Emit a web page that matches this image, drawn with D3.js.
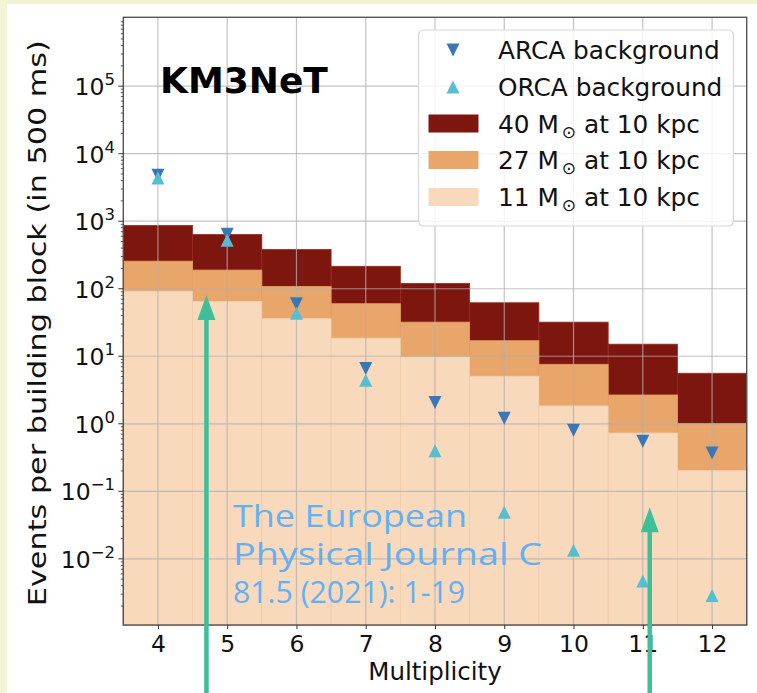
<!DOCTYPE html>
<html>
<head>
<meta charset="utf-8">
<script src="https://cdn.jsdelivr.net/npm/d3@7"></script>
<style>
body{margin:0;background:#f3f3d5;}
svg{display:block;font-family:"DejaVu Sans",sans-serif;}
</style>
</head>
<body>
<svg id="chart" width="757" height="693"></svg>
<script>
// multiplicity bins and values
var multiplicity=[4,5,6,7,8,9,10,11,12];
var m40=[864,636,381,215,120,62,32,15.1,5.6];
var m27=[256,189,108,60,32,17,7.6,2.67,1.0];
var m11=[92,65,36,18.5,9.8,5.06,1.84,0.73,0.203];
var arca=[4800,641,60,6.6,2.06,1.21,0.80,0.55,0.37];
var orca=[4380,523,43.5,4.4,0.40,0.049,0.0134,0.0047,0.00287];
var yExp=[-2,-1,0,1,2,3,4,5];
var supLabels=["\u22122","\u22121","0","1","2","3","4","5"];
var masses=["40","27","11"];
var arrowX=[4.7,11.1];
var arrowTip=[81,0.058];
var citation=["The European","Physical Journal C","81.5 (2021): 1-19"];

var colors={m40:"#7e1610",m27:"#e9a66b",m11:"#f8d9bb",arca:"#3878b8",orca:"#55bed3",arrow:"#3ebf98",cite:"#62b1f5"};

var svg=d3.select("#chart");
svg.append("rect").attr("x",7).attr("y",4).attr("width",750).attr("height",689).attr("fill","#fff");

var pL=123.3,pR=746.7,pT=17.3,pB=625;
var x=d3.scaleLinear().domain([3.5,12.5]).range([pL,pR]);
var y=d3.scaleLog().domain([Math.pow(10,-2.98),Math.pow(10,6.02)]).range([pB,pT]);

var plot=svg.append("g");

function bars(vals,col,edge){
	plot.append("g").selectAll("rect")
		.data(vals)
		.enter().append("rect")
		.attr("x",function(d,i){return x(multiplicity[i]-0.5);})
		.attr("width",function(d,i){return x(multiplicity[i]+0.5)-x(multiplicity[i]-0.5);})
		.attr("y",function(d){return y(d);})
		.attr("height",function(d){return pB-y(d);})
		.attr("fill",col)
		.attr("stroke",edge)
		.attr("stroke-width",0.8);
}
bars(m40,colors.m40,"#9a2a22");
bars(m27,colors.m27,"#e3a068");
bars(m11,colors.m11,"#efcdae");

// grid on top
plot.append("g").selectAll("line")
	.data(multiplicity)
	.enter().append("line")
	.attr("x1",function(d){return x(d);}).attr("x2",function(d){return x(d);})
	.attr("y1",pT).attr("y2",pB)
	.attr("stroke","#b0b0b0").attr("stroke-opacity",0.75).attr("stroke-width",1.2);
plot.append("g").selectAll("line")
	.data(yExp)
	.enter().append("line")
	.attr("x1",pL).attr("x2",pR)
	.attr("y1",function(d){return y(Math.pow(10,d));}).attr("y2",function(d){return y(Math.pow(10,d));})
	.attr("stroke","#b0b0b0").attr("stroke-opacity",0.75).attr("stroke-width",1.2);

// markers
function tri(sz,down){
	var h=sz/2;
	return down ? "M"+(-h)+","+(-h)+"L"+h+","+(-h)+"L0,"+h+"Z" : "M"+(-h)+","+h+"L"+h+","+h+"L0,"+(-h)+"Z";
}
plot.append("g").selectAll("path")
	.data(arca)
	.enter().append("path")
	.attr("d",tri(13,true))
	.attr("transform",function(d,i){return "translate("+x(multiplicity[i])+","+y(d)+")";})
	.attr("fill",colors.arca);
plot.append("g").selectAll("path")
	.data(orca)
	.enter().append("path")
	.attr("d",tri(13,false))
	.attr("transform",function(d,i){return "translate("+x(multiplicity[i])+","+y(d)+")";})
	.attr("fill",colors.orca);

// spines
svg.append("rect").attr("x",pL).attr("y",pT).attr("width",pR-pL).attr("height",pB-pT)
	.attr("fill","none").attr("stroke","#555").attr("stroke-width",1.4);

// x axis
var xAxis=svg.append("g").attr("transform","translate(0,"+pB+")")
	.call(d3.axisBottom(x).tickValues(multiplicity).tickSize(4).tickPadding(6).tickFormat(d3.format("d")));
xAxis.select(".domain").remove();
xAxis.selectAll("line").attr("stroke","#333");
xAxis.selectAll("text").attr("font-size","23.5px").attr("font-family","DejaVu Sans").attr("fill","#111");

// y axis: minor ticks then major
var minor=[];
for(var k=-3;k<6;k++){for(var m=2;m<10;m++){var v=m*Math.pow(10,k);if(v<y.domain()[1]&&v>y.domain()[0])minor.push(v);}}
svg.append("g").selectAll("line")
	.data(minor)
	.enter().append("line")
	.attr("x1",pL-2.5).attr("x2",pL)
	.attr("y1",function(d){return y(d);}).attr("y2",function(d){return y(d);})
	.attr("stroke","#333").attr("stroke-width",0.8);
svg.append("g").selectAll("line")
	.data(yExp)
	.enter().append("line")
	.attr("x1",pL-5).attr("x2",pL)
	.attr("y1",function(d){return y(Math.pow(10,d));}).attr("y2",function(d){return y(Math.pow(10,d));})
	.attr("stroke","#333").attr("stroke-width",1);
var yl=svg.append("g").selectAll("text")
	.data(yExp)
	.enter().append("text")
	.attr("x",115)
	.attr("y",function(d){return y(Math.pow(10,d))+9;})
	.attr("text-anchor","end")
	.attr("font-size","23.5px")
	.attr("fill","#111");
yl.append("tspan").text("10");
yl.append("tspan").attr("dy",-10).attr("font-size","16.5px").text(function(d,i){return supLabels[i];});

// axis titles
svg.append("text").attr("x",(pL+pR)/2).attr("y",680).attr("text-anchor","middle")
	.attr("font-size","24.5px").attr("fill","#111").text("Multiplicity");
svg.append("text").attr("transform","translate(46,"+((pT+pB)/2+2)+") rotate(-90)")
	.attr("text-anchor","middle").attr("font-size","25.5px").attr("fill","#111")
	.attr("textLength",566).attr("lengthAdjust","spacingAndGlyphs")
	.text("Events per building block (in 500 ms)");

svg.append("text").attr("x",160).attr("y",93).attr("font-size","36px").attr("font-weight","bold")
	.attr("fill","#000").text("KM3NeT");

// legend
var lg=svg.append("g");
lg.append("rect").attr("x",418.5).attr("y",30).attr("width",315).attr("height",196).attr("rx",5)
	.attr("fill","#fff").attr("fill-opacity",0.82).attr("stroke","#d8d8d8").attr("stroke-width",1.2);
var rowY=[50,87,123.5,160,197];
lg.append("path").attr("d",tri(13,true)).attr("transform","translate(453,"+rowY[0]+")").attr("fill",colors.arca);
lg.append("path").attr("d",tri(13,false)).attr("transform","translate(453,"+rowY[1]+")").attr("fill",colors.orca);
lg.append("text").attr("x",498).attr("y",rowY[0]+9).attr("font-size","24.8px").attr("fill","#111").text("ARCA background");
lg.append("text").attr("x",498).attr("y",rowY[1]+9).attr("font-size","24.8px").attr("fill","#111").text("ORCA background");
var mcol=[colors.m40,colors.m27,colors.m11];
masses.forEach(function(ms,i){
	var ry=rowY[i+2];
	lg.append("rect").attr("x",428.5).attr("y",ry-9).attr("width",50).attr("height",18).attr("fill",mcol[i]);
	var t=lg.append("text").attr("x",498).attr("y",ry+9).attr("font-size","24.8px").attr("fill","#111");
	t.append("tspan").text(ms+" M");
	t.append("tspan").attr("dx",3).attr("dy",5).attr("font-size","17px").text("\u2299");
	t.append("tspan").attr("dy",-5).text(" at 10 kpc");
});

// citation text
var citeW=[234,309,232];
svg.append("g").selectAll("text")
	.data(citation)
	.enter().append("text")
	.attr("x",233)
	.attr("y",function(d,i){return 527+i*38;})
	.attr("font-family","'Open Sans', sans-serif")
	.attr("font-size","31px")
	.attr("fill",colors.cite)
	.attr("textLength",function(d,i){return citeW[i];})
	.attr("lengthAdjust","spacingAndGlyphs")
	.text(function(d){return d;});

// arrows
arrowX.forEach(function(ax,i){
	var px=x(ax),py=y(arrowTip[i]);
	svg.append("line").attr("x1",px).attr("x2",px).attr("y1",693).attr("y2",py+20)
		.attr("stroke",colors.arrow).attr("stroke-width",4.5);
	svg.append("path").attr("d","M"+px+","+py+"L"+(px-9)+","+(py+25)+"L"+(px+9)+","+(py+25)+"Z")
		.attr("fill",colors.arrow);
});
</script>
</body>
</html>
